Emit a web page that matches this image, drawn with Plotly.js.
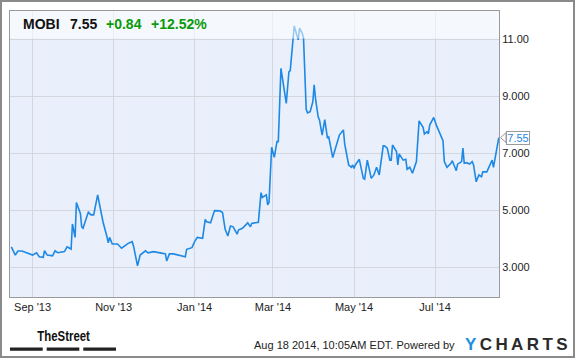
<!DOCTYPE html>
<html>
<head>
<meta charset="utf-8">
<script src="https://cdn.plot.ly/plotly-3.0.1.min.js"></script>
<style>
  html, body { margin: 0; padding: 0; background: #ffffff; }
  #chart { width: 575px; height: 358px; }
</style>
</head>
<body>
<div id="chart"></div>
<script>
// ---- data ----
const dates = [
'2013-08-16','2013-08-19','2013-08-21','2013-08-24',
'2013-09-01','2013-09-04','2013-09-06','2013-09-09','2013-09-10','2013-09-12','2013-09-16','2013-09-18','2013-09-20','2013-09-25','2013-09-27','2013-09-30',
'2013-10-01','2013-10-03','2013-10-04','2013-10-07','2013-10-08','2013-10-09','2013-10-11','2013-10-13','2013-10-15','2013-10-17','2013-10-20','2013-10-24','2013-10-27','2013-10-28','2013-10-29','2013-10-31',
'2013-11-04','2013-11-07','2013-11-12','2013-11-15','2013-11-16','2013-11-19','2013-11-21','2013-11-25','2013-11-27',
'2013-12-01','2013-12-08','2013-12-10','2013-12-11','2013-12-13','2013-12-16','2013-12-21','2013-12-25','2013-12-26','2013-12-30',
'2014-01-01','2014-01-03','2014-01-07','2014-01-09','2014-01-10','2014-01-13','2014-01-16','2014-01-20','2014-01-22','2014-01-24','2014-01-26','2014-01-28','2014-01-30',
'2014-02-02','2014-02-03','2014-02-06','2014-02-10','2014-02-12','2014-02-13','2014-02-18','2014-02-20','2014-02-21','2014-02-24','2014-02-25','2014-02-26','2014-02-28',
'2014-03-02','2014-03-04','2014-03-05','2014-03-07','2014-03-11','2014-03-13','2014-03-14','2014-03-17','2014-03-20','2014-03-21','2014-03-23','2014-03-24','2014-03-26','2014-03-27','2014-03-29','2014-03-31',
'2014-04-01','2014-04-02','2014-04-04','2014-04-05','2014-04-07','2014-04-09','2014-04-11','2014-04-12','2014-04-15','2014-04-20','2014-04-23','2014-04-24','2014-04-27','2014-04-29','2014-04-30',
'2014-05-01','2014-05-02','2014-05-05','2014-05-08','2014-05-09','2014-05-11','2014-05-14','2014-05-16','2014-05-18','2014-05-20','2014-05-23','2014-05-24','2014-05-26','2014-05-28','2014-05-29','2014-05-30',
'2014-06-02','2014-06-03','2014-06-04','2014-06-07','2014-06-09','2014-06-10','2014-06-12','2014-06-14','2014-06-17','2014-06-19','2014-06-22','2014-06-23','2014-06-25','2014-06-26','2014-06-27','2014-06-30',
'2014-07-02','2014-07-07','2014-07-08','2014-07-10','2014-07-13','2014-07-14','2014-07-17','2014-07-18','2014-07-21','2014-07-22','2014-07-23','2014-07-25','2014-07-27','2014-07-29','2014-07-30',
'2014-08-01','2014-08-03','2014-08-05','2014-08-06','2014-08-09','2014-08-11','2014-08-13','2014-08-14','2014-08-18'
];
const prices = [
3.72,3.43,3.57,3.57,
3.43,3.51,3.37,3.35,3.58,3.43,3.40,3.58,3.51,3.55,3.72,3.64,
4.52,4.05,5.27,4.89,4.42,4.37,4.66,4.93,4.84,4.84,5.54,4.60,4.07,3.86,4.05,3.82,
3.82,3.67,3.84,3.90,3.75,3.05,3.43,3.58,3.51,
3.55,3.49,3.47,3.22,3.47,3.47,3.40,3.37,3.63,3.69,
3.90,4.05,4.02,4.68,4.60,4.56,4.99,4.98,4.92,4.33,4.10,4.45,4.42,
4.16,4.31,4.37,4.56,4.42,4.54,4.58,5.62,5.45,5.54,5.19,5.27,7.21,
6.86,7.41,7.41,9.98,8.75,9.86,9.90,11.47,10.98,11.39,11.21,11.04,8.54,8.42,8.46,8.81,
9.40,8.93,8.28,8.17,7.64,8.18,7.53,7.57,6.85,7.64,7.82,7.32,6.59,6.51,6.59,
6.47,6.59,6.79,6.12,6.09,6.76,6.12,6.24,6.51,6.24,7.26,7.26,7.18,6.76,6.76,7.29,
7.06,6.59,6.98,6.76,6.79,6.44,6.51,6.30,6.71,8.14,7.91,7.68,7.76,7.68,7.99,8.26,
7.99,7.44,6.71,6.51,6.65,6.74,6.39,6.62,6.71,7.18,6.65,6.67,6.62,6.71,6.59,
6.00,6.24,6.18,6.35,6.35,6.59,6.76,6.51,7.55
];
const xTickVals = ['2013-09-01','2013-11-01','2014-01-01','2014-03-01','2014-05-01','2014-07-01'];
const xTickText = ["Sep '13","Nov '13","Jan '14","Mar '14","May '14","Jul '14"];
const yTickVals = [3, 5, 7, 9, 11];
const yTickText = ['3.000','5.000','7.000','9.000','11.00'];
const ticker = 'MOBI';
const lastPrice = '7.55';
const change = '+0.84';
const changePct = '+12.52%';
const footerText = 'Aug 18 2014, 10:05AM EDT. Powered by';

// ---- drawing ----
const lineColor = '#1e88e5';
const green = '#0a9a0a';
const font = 'Liberation Sans, Arial, sans-serif';

const trace = {
  x: dates, y: prices, type: 'scatter', mode: 'lines',
  line: {color: lineColor, width: 1.6},
  hoverinfo: 'skip'
};

const L = 10, T = 11, W = 489, H = 286;
const px = v => (v - L) / W;          // pixel -> paper x
const py = v => (T + H - v) / H;      // pixel -> paper y
const lastVal = prices[prices.length - 1];

const layout = {
  width: 575, height: 358,
  margin: {l: 10, r: 76, t: 11, b: 61, pad: 0},
  paper_bgcolor: '#ffffff',
  plot_bgcolor: '#e9f0fb',
  showlegend: false,
  font: {family: font, size: 11, color: '#222'},
  xaxis: {
    type: 'date',
    range: ['2013-08-15', '2014-08-18 04:00'],
    tickvals: xTickVals, ticktext: xTickText,
    showgrid: true, gridcolor: '#d4d8de', gridwidth: 1,
    ticks: '', showline: true, linecolor: '#9a9a9a', linewidth: 1, mirror: true,
    zeroline: false, fixedrange: true,
    tickfont: {family: font, size: 11, color: '#222'}
  },
  yaxis: {
    side: 'right',
    range: [1.958, 11.993],
    tickvals: yTickVals, ticktext: yTickText,
    showgrid: true, gridcolor: '#d4d8de', gridwidth: 1,
    ticks: '', showline: true, linecolor: '#9a9a9a', linewidth: 1, mirror: true,
    zeroline: false, fixedrange: true,
    tickfont: {family: font, size: 11, color: '#222'},
    ticklabelstandoff: 0
  },
  shapes: [
    {type: 'rect', xref: 'paper', yref: 'paper', x0: 0, x1: 1, y0: py(38.5), y1: 1,
     fillcolor: 'rgba(255,255,255,0.55)', line: {width: 0}, layer: 'above'},
    {type: 'rect', xref: 'paper', yref: 'paper', x0: px(1), x1: px(574), y0: py(357), y1: py(1),
     fillcolor: 'rgba(0,0,0,0)', line: {color: '#8a8a8a', width: 2}, layer: 'above'},
    {type: 'rect', xref: 'paper', yref: 'paper', x0: px(10), x1: px(42.7), y0: py(350.7), y1: py(347.5),
     fillcolor: '#222', line: {width: 0}},
    {type: 'rect', xref: 'paper', yref: 'paper', x0: px(46.7), x1: px(79.3), y0: py(350.7), y1: py(347.5),
     fillcolor: '#222', line: {width: 0}},
    {type: 'rect', xref: 'paper', yref: 'paper', x0: px(83.3), x1: px(116), y0: py(350.7), y1: py(347.5),
     fillcolor: '#222', line: {width: 0}},
    {type: 'path', xref: 'paper', yref: 'y',
     path: 'M ' + px(500.5) + ' ' + lastVal + ' L ' + px(506) + ' ' + (lastVal + 0.17) +
           ' L ' + px(506) + ' ' + (lastVal - 0.17) + ' Z',
     fillcolor: '#ffffff', line: {color: '#9a9a9a', width: 1}, layer: 'above'}
  ],
  annotations: [
    {xref: 'paper', yref: 'paper', x: px(21), y: py(23.5), xanchor: 'left', yanchor: 'middle', showarrow: false,
     text: '<b>' + ticker + '</b>', font: {family: font, size: 14, color: '#111'}},
    {xref: 'paper', yref: 'paper', x: px(68), y: py(23.5), xanchor: 'left', yanchor: 'middle', showarrow: false,
     text: '<b>' + lastPrice + '</b>', font: {family: font, size: 14, color: '#111'}},
    {xref: 'paper', yref: 'paper', x: px(104), y: py(23.5), xanchor: 'left', yanchor: 'middle', showarrow: false,
     text: '<b>' + change + '</b>', font: {family: font, size: 14, color: green}},
    {xref: 'paper', yref: 'paper', x: px(149), y: py(23.5), xanchor: 'left', yanchor: 'middle', showarrow: false,
     text: '<b>' + changePct + '</b>', font: {family: font, size: 14, color: green}},
    {xref: 'paper', yref: 'y', x: px(505.5), y: lastVal, xanchor: 'left', yanchor: 'middle',
     showarrow: false, text: lastPrice, font: {family: font, size: 11, color: lineColor},
     bgcolor: '#ffffff', bordercolor: '#9a9a9a', borderwidth: 1, borderpad: 0, width: 22, height: 12},
    {xref: 'paper', yref: 'paper', x: px(63.3), y: py(335.5), xanchor: 'center', yanchor: 'middle', showarrow: false,
     text: '<b>TheStreet</b>', font: {family: font, size: 15, color: '#111'}, name: 'thestreet'},
    {xref: 'paper', yref: 'paper', x: px(457), y: py(345), xanchor: 'right', yanchor: 'middle', showarrow: false,
     text: footerText, font: {family: font, size: 11, color: '#222'}},
    {xref: 'paper', yref: 'paper', x: px(463), y: py(344), xanchor: 'left', yanchor: 'middle', showarrow: false,
     text: '<b><span style="color:#1a8fe0">Y</span>\u2009C\u2009H\u2009A\u2009R\u2009T\u2009S</b>',
     font: {family: font, size: 17, color: '#2a2a2a'}}
  ]
};

Plotly.newPlot('chart', [trace], layout, {staticPlot: true, displayModeBar: false}).then(function () {
  // condense the "TheStreet" wordmark horizontally (narrow face not installed)
  document.querySelectorAll('#chart .annotation-text').forEach(function (t) {
    if (t.textContent === 'TheStreet') {
      const b = t.getBBox();
      const cx = b.x + b.width / 2;
      t.setAttribute('transform', 'translate(' + cx + ',0) scale(0.76,1) translate(' + (-cx) + ',0)');
    }
  });
});
</script>
</body>
</html>
